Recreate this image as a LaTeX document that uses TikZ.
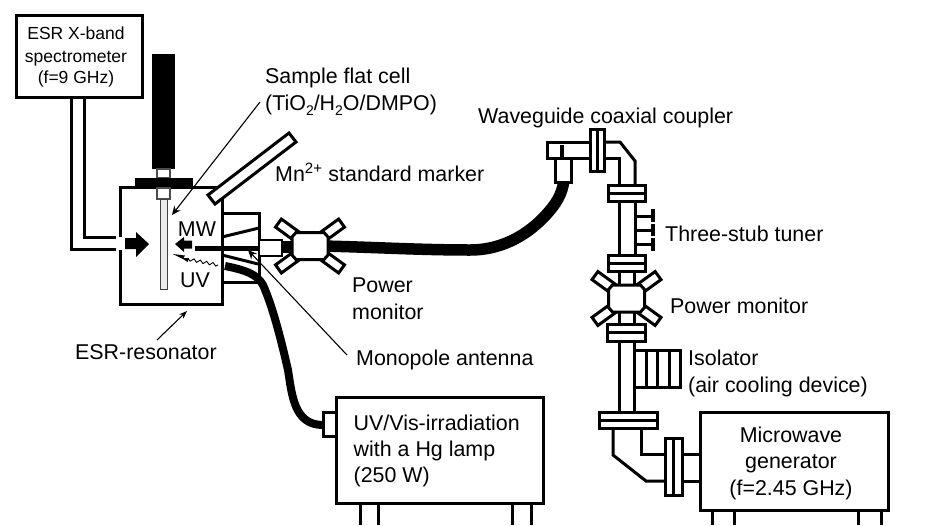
\documentclass[tikz,border=0pt]{standalone}
\usepackage{fontspec}
\setmainfont{Liberation Sans}
\usetikzlibrary{arrows.meta,decorations.pathmorphing}
\tikzset{
  x=1pt,y=-1pt,
  lbl/.style={anchor=base west,inner sep=0pt,font=\fontsize{21.4}{25}\selectfont},
  clbl/.style={anchor=base,inner sep=0pt,font=\fontsize{21.4}{25}\selectfont},
  slbl/.style={anchor=base,inner sep=0pt,font=\fontsize{17.5}{21}\selectfont},
  wall/.style={line width=3pt,line cap=butt,line join=miter},
  box/.style={line width=3pt,fill=white,line join=miter},
  cable/.style={line width=11.5pt,line cap=butt},
  leader/.style={line width=1.1pt,-{Stealth[length=9pt,width=8pt]}},
}
\newcommand{\monitor}[2]{%
  \begin{scope}[shift={(#1,#2)}]
    \foreach \a in {36,144,216,324}{
      \begin{scope}[rotate=\a]
        \draw[box] (16,-5) rectangle (39,5);
      \end{scope}}
    \draw[box] (-18,-9) -- (-14,-13.5) -- (14,-13.5) -- (18,-9) -- (18,9) -- (14,13.5) -- (-14,13.5) -- (-18,9) -- cycle;
  \end{scope}}
\newcommand{\hflange}[4]{\draw[box] (#1,#3) rectangle (#2,#4); \draw[wall] (#1,{(#3+#4)/2}) -- (#2,{(#3+#4)/2});}
\newcommand{\vflange}[4]{\draw[box] (#1,#3) rectangle (#2,#4); \draw[wall] ({(#1+#2)/2},#3) -- ({(#1+#2)/2},#4);}
\newcommand{\lowtwo}{\raisebox{-5pt}{\fontsize{14}{14}\selectfont 2}}
\begin{document}
\begin{tikzpicture}
\useasboundingbox (0,0) rectangle (925,525);
% spectrometer
\node[draw,line width=3pt,minimum width=126pt,minimum height=82pt,anchor=north west,inner sep=0pt] (esr) at (15,14) {};
\node[slbl] (esr1) at (76,39) {ESR X-band};
\node[slbl] (esr2) at (76,62) {spectrometer};
\node[slbl] (esr3) at (76,83) {(f=9 GHz)};
\draw[wall] (71,96) -- (71,249.5) -- (116,249.5);
\draw[wall] (84,96) -- (84,237) -- (116,237);
% rod
\fill (152,54) rectangle (175,169);
\draw[line width=1.2pt,draw=black!70,fill=white] (157,169) rectangle (170,178);
\fill (135,178) rectangle (193,188);
% resonator
\draw[wall] (120,237) -- (120,187.5) -- (222,187.5) -- (222,304) -- (120,304) -- (120,250);
\draw[line width=1.2pt,draw=black!70,fill=white] (157,188) rectangle (170,199);
\draw[line width=1pt,draw=black!75,fill=black!8] (160,199) rectangle (167,289);
% marker
\draw[box] (208,195) -- (289,133) -- (296,142) -- (215,204) -- cycle;
% arm
\draw[wall] (222,213) -- (259,213) -- (259,282) -- (222,282);
\draw[wall] (222,237) -- (259,228);
\draw[wall] (222,255) -- (258,264);
% UV cable
\draw[line width=8pt] (225,266) .. controls (245,270) and (257,274) .. (263,285) .. controls (272,305) and (280,335) .. (288,370) .. controls (292,395) and (294,425) .. (323,425);
% coax
\draw[line width=5pt] (195,248) -- (292,248);
\draw[line width=1.6pt,fill=white] (259,240) rectangle (282,256);
\fill (282,241) rectangle (293,253);
% main cable
\draw[cable] (322,246) .. controls (370,247) and (420,250) .. (470,250) .. controls (505,250) and (530,232) .. (545,216) .. controls (556,204) and (562,195) .. (564,180);
\monitor{310}{246}
% arrows
\fill (125,238) -- (136,238) -- (136,232) -- (149,244) -- (136,257) -- (136,249) -- (125,249) -- cycle;
\fill (175,244) -- (184,237) -- (184,240.5) -- (192,240.5) -- (192,248.5) -- (184,248.5) -- (184,252) -- cycle;
\coordinate (wavestart) at (218,265);
\coordinate (wavetip) at (172.7,254);
\coordinate (wavemid) at (187,259);
\draw[line width=.9pt,decorate,decoration={snake,amplitude=1.5pt,segment length=6.5pt}] (wavestart) -- (wavemid);
\fill (wavetip) -- (185,255.5) -- (183.5,258) -- (189,258) -- (187.5,262) -- (184,259.5) -- cycle;
\node[clbl] (mw) at (197,236) {MW};
\node[clbl] (uv) at (195,287) {UV};
% leader arrows
\coordinate (cellA) at (260,102); \coordinate (cellB) at (172,215);
\draw[leader] (cellA) -- (cellB);
\coordinate (monoA) at (347,355); \coordinate (monoB) at (248,250);
\draw[leader] (monoA) -- (monoB);
\coordinate (resA) at (157,340); \coordinate (resB) at (187,311);
\draw[line width=1.1pt,-{Stealth[length=8pt,width=6pt]}] (resA) -- (resB);
% texts left
\node[lbl] (t1) at (265,83) {Sample flat cell};
\node[lbl] (t2) at (265,110) {(TiO\lowtwo/H\lowtwo O/DMPO)};
\node[lbl] (t3) at (275,181) {Mn\textsuperscript{2+} standard marker};
\node[lbl] (t4) at (352,292.5) {Power};
\node[lbl] (t5) at (352,319) {monitor};
\node[lbl] (t6) at (356,365) {Monopole antenna};
\node[lbl] (t7) at (75,359) {ESR-resonator};
% UV box
\draw[box] (336,397) rectangle (543,503);
\draw[box,fill=white] (323,412) rectangle (336,436);
\foreach \x in {360,378,512,531}{\draw[wall] (\x,503) -- (\x,525);}
\node[lbl] (u1) at (353.5,430) {UV/Vis-irradiation};
\node[lbl] (u2) at (353.5,456) {with a Hg lamp};
\node[lbl] (u3) at (353.5,482) {(250 W)};
% coupler
\node[lbl] (t8) at (478,123) {Waveguide coaxial coupler};
\draw[wall,fill=white] (590,142) -- (547,142) -- (547,158) -- (590,158);
\draw[wall] (604,142) -- (620,142) -- (635,161) -- (635,185);
\draw[wall] (604,158) -- (619,158) -- (619,185);
\draw[box] (555,158) rectangle (571,182);
\draw[line width=4pt] (562,145) -- (562,158);
\vflange{590}{604}{129}{171}
\hflange{608}{645}{185}{201}
% straight section + stubs
\draw[wall] (619,201) -- (619,255) (635,201) -- (635,255);
\foreach \y in {216,230,244}{\draw[wall] (635,\y) -- (652,\y);}
\draw[line width=4pt] (653,209) -- (653,222) (653,224) -- (653,236) (653,238) -- (653,251);
\hflange{608}{645}{255}{271}
\node[lbl] (t9) at (665,241) {Three-stub tuner};
% monitor 2
\draw[wall] (619,271) -- (619,285) (634,271) -- (634,285);
\draw[wall] (619,312) -- (619,324) (634,312) -- (634,324);
\monitor{626.5}{298.5}
\hflange{607}{645}{324}{341}
\node[lbl] (t10) at (670,313) {Power monitor};
% isolator
\draw[wall] (619,341) -- (619,412) (634,341) -- (634,412);
\draw[wall] (635,350) -- (680,350) -- (680,387) -- (635,387);
\foreach \x in {646,657,669}{\draw[wall] (\x,350) -- (\x,387);}
\node[lbl] (t11) at (688,365) {Isolator};
\node[lbl] (t12) at (688,392) {(air cooling device)};
\hflange{599}{657}{412}{428}
% bend
\draw[wall] (613,428) -- (613,455) -- (646,481) -- (665,481);
\draw[wall] (641,428) -- (641,454) -- (665,454);
\vflange{665}{682}{438}{495}
\draw[wall] (682,454) -- (700,454) (682,481) -- (700,481);
% generator
\draw[box] (700,412) rectangle (888,510);
\foreach \x in {712,734,858,881}{\draw[wall] (\x,510) -- (\x,525);}
\node[clbl] (m1) at (791,442) {Microwave};
\node[clbl] (m2) at (791,468) {generator};
\node[clbl] (m3) at (791,495) {(f=2.45 GHz)};
\end{tikzpicture}
\end{document}
